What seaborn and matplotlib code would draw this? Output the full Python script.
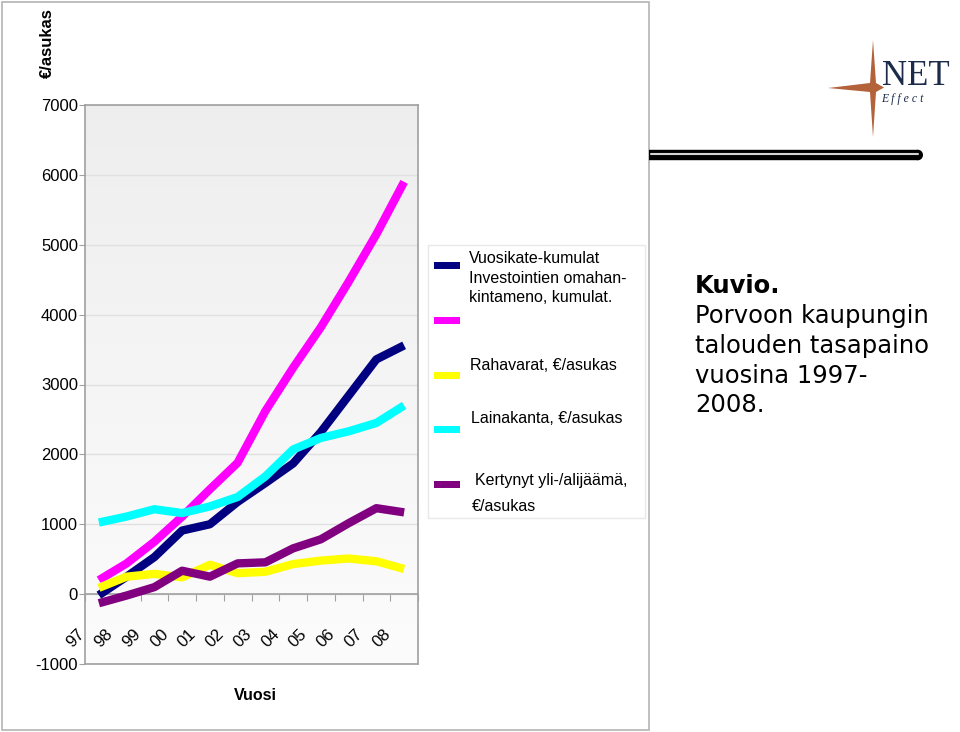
import numpy as np
import pandas as pd
import seaborn as sns
import matplotlib.pyplot as plt
import matplotlib.transforms as mtransforms
from matplotlib.colors import LinearSegmentedColormap
from matplotlib.patches import Rectangle, Polygon, Ellipse
from matplotlib.lines import Line2D

# ---- data ----
vuodet = ['97', '98', '99', '00', '01', '02', '03', '04', '05', '06', '07', '08']
vuosikate = [-15, 250, 530, 910, 1000, 1320, 1590, 1870, 2320, 2840, 3360, 3560]
investoinnit = [200, 440, 750, 1110, 1500, 1880, 2620, 3240, 3820, 4470, 5150, 5900]
rahavarat = [90, 250, 290, 240, 420, 300, 320, 430, 480, 510, 470, 360]
lainakanta = [1025, 1110, 1215, 1160, 1255, 1390, 1685, 2070, 2235, 2330, 2450, 2700]
kertynyt = [-130, -20, 100, 335, 250, 440, 455, 655, 785, 1015, 1230, 1170]

sarjat = ['Vuosikate-kumulat', 'Investointien omahankintameno, kumulat.',
          'Rahavarat, €/asukas', 'Lainakanta, €/asukas',
          'Kertynyt yli-/alijäämä, €/asukas']
varit = ['#000080', '#ff00ff', '#ffff00', '#00ffff', '#800080']

df = pd.DataFrame({
    'x': np.tile(np.arange(len(vuodet)), len(sarjat)),
    'arvo': np.concatenate([vuosikate, investoinnit, rahavarat, lainakanta, kertynyt]),
    'sarja': np.repeat(sarjat, len(vuodet)),
})

sns.set_style('white')
plt.rcParams['font.family'] = ['Liberation Sans', 'DejaVu Sans']
plt.rcParams['axes.unicode_minus'] = False
plt.rcParams['text.color'] = 'black'
plt.rcParams['xtick.color'] = 'black'
plt.rcParams['ytick.color'] = 'black'
plt.rcParams['axes.labelcolor'] = 'black'

W, H = 960, 732


def fx(px):
    return px / W


def fy(py):
    return 1 - py / H


fig = plt.figure(figsize=(9.6, 7.32), dpi=100)
ax = fig.add_axes([fx(85), fy(664), 333 / W, 559 / H])

# light gray gradient background of the plot area
cmap = LinearSegmentedColormap.from_list('bg', ['#eeeeee', '#fcfcfc'])
ax.imshow(np.linspace(0, 1, 200).reshape(-1, 1), cmap=cmap, origin='upper',
          extent=(-0.5, 11.5, -1000, 7000), aspect='auto', zorder=0)

sns.lineplot(data=df, x='x', y='arvo', hue='sarja', hue_order=sarjat,
             palette=varit, linewidth=6, legend=False, errorbar=None,
             solid_capstyle='butt', ax=ax, zorder=3)

ax.set_xlim(-0.5, 11.5)
ax.set_ylim(-1000, 7000)
ax.set_xlabel('')
ax.set_ylabel('')

ax.set_axisbelow(True)
ax.yaxis.grid(True, color='#e0e0e0', lw=1)
ax.set_yticks(range(-1000, 8000, 1000))
ax.tick_params(axis='y', length=4, pad=1, labelsize=12, color='#a0a0a0',
               labelcolor='black', left=True)

for s in ax.spines.values():
    s.set_color('#a0a0a0')
    s.set_linewidth(1.2)
ax.spines['bottom'].set_position(('data', 0))
ax.axhline(-1000, color='#a0a0a0', lw=1.2, clip_on=False, zorder=4)

ax.set_xticks(np.arange(-0.5, 12, 1))
ax.set_xticks(np.arange(len(vuodet)), minor=True)
ax.set_xticklabels(vuodet, minor=True, rotation=45, ha='right', va='top')
ax.tick_params(axis='x', which='major', length=5, color='#a0a0a0',
               labelbottom=False, bottom=True)
ax.tick_params(axis='x', which='minor', length=0, pad=23, labelsize=12,
               labelcolor='black')
siirto = mtransforms.ScaledTranslation(-11 / 100, 0, fig.dpi_scale_trans)
for lbl in ax.get_xticklabels(minor=True):
    lbl.set_transform(lbl.get_transform() + siirto)

fig.text(fx(47), fy(43), '€/asukas', rotation=90, fontweight='bold',
         fontsize=12, ha='center', va='center')
fig.text(fx(255), fy(695), 'Vuosi', fontweight='bold', fontsize=11.5,
         ha='center', va='center')

# outer chart frame
fig.add_artist(Rectangle((fx(2), fy(730)), 647 / W, 728 / H, transform=fig.transFigure,
                         fill=False, edgecolor='#b4b4b4', lw=1.2))

# legend (drawn by hand, as in the original slide)
fig.add_artist(Rectangle((fx(428), fy(518)), 217 / W, 273 / H, transform=fig.transFigure,
                         fill=False, edgecolor='#e8e8e8', lw=1))
for vari, yc in zip(varit, [265, 320, 375, 429, 484]):
    fig.add_artist(Rectangle((fx(434), fy(yc + 3.5)), 26 / W, 7 / H,
                             transform=fig.transFigure, facecolor=vari, edgecolor='none'))
selitteet = [
    (469, 263, 'Vuosikate-kumulat'),
    (469, 283, 'Investointien omahan-'),
    (469, 302, 'kintameno, kumulat.'),
    (470, 370, 'Rahavarat, €/asukas'),
    (471, 423, 'Lainakanta, €/asukas'),
    (475, 485, 'Kertynyt yli-/alijäämä,'),
    (472, 511, '€/asukas'),
]
for x, y, t in selitteet:
    fig.text(fx(x), fy(y), t, fontsize=11.5, va='baseline', ha='left')

# figure caption
kuvio = [('Kuvio.', 293, 'bold'), ('Porvoon kaupungin', 323, 'normal'),
         ('talouden tasapaino', 353, 'normal'), ('vuosina 1997-', 383, 'normal'),
         ('2008.', 412, 'normal')]
for t, y, w in kuvio:
    fig.text(fx(695), fy(y), t, fontsize=17.5, fontweight=w, va='baseline',
             family=['DejaVu Sans'])

# separator bar
fig.add_artist(Line2D([fx(649), fx(918)], [fy(155), fy(155)], color='black', lw=7.5,
                      solid_capstyle='butt', transform=fig.transFigure))
fig.add_artist(Ellipse((fx(918), fy(155)), 10 / W, 10.5 / H, transform=fig.transFigure,
                       facecolor='black', edgecolor='none'))
fig.add_artist(Line2D([fx(651), fx(918)], [fy(153.5), fy(153.5)], color='#d4d4d4', lw=1.5,
                      solid_capstyle='round', transform=fig.transFigure))

# logo
tahti = [(873, 40), (876, 83), (884, 87.5), (876, 92), (873, 137), (870, 92),
         (828, 88), (870, 83)]
fig.add_artist(Polygon([(fx(a), fy(b)) for a, b in tahti], closed=True,
                       transform=fig.transFigure, facecolor='#b3623a', edgecolor='none'))
fig.text(fx(882), fy(85), 'NET', family=['Liberation Serif'], fontsize=25,
         color='#1c2b4a', va='baseline')
fig.text(fx(881), fy(102), 'E f f e c t', family=['Liberation Serif'], style='italic',
         fontsize=8.5, color='#1c2b4a', va='baseline')

fig.savefig('out.png', dpi=100)
